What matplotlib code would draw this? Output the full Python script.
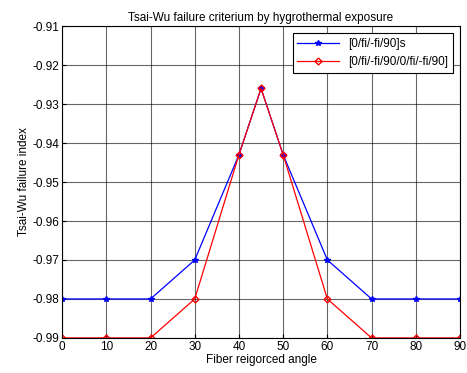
import matplotlib
matplotlib.use("Agg")
from matplotlib import pyplot as plt

angles = [0, 10, 20, 30, 40, 45, 50, 60, 70, 80, 90]
sym_index = [-0.98, -0.98, -0.98, -0.97, -0.943, -0.926, -0.943, -0.97, -0.98, -0.98, -0.98]
long_index = [-0.99, -0.99, -0.99, -0.98, -0.943, -0.926, -0.943, -0.98, -0.99, -0.99, -0.99]
x_ticks = [0, 10, 20, 30, 40, 50, 60, 70, 80, 90]
y_ticks = [-0.99, -0.98, -0.97, -0.96, -0.95, -0.94, -0.93, -0.92, -0.91]

plt.rcParams["font.family"] = ["Liberation Sans", "DejaVu Sans"]
plt.rcParams["font.size"] = 8.5

fig = plt.figure(figsize=(4.67, 3.73), dpi=100)
ax = fig.add_axes([0.133, 0.094, 0.852, 0.836])
ax.plot(angles, sym_index, color="blue", lw=0.9, marker="*", ms=4,
        label="[0/fi/-fi/90]s")
ax.plot(angles, long_index, color="red", lw=0.9, marker="D", ms=3.5,
        mfc="none", label="[0/fi/-fi/90/0/fi/-fi/90]")
ax.set_xlim(0, 90)
ax.set_ylim(-0.99, -0.91)
ax.set_xticks(x_ticks)
ax.set_yticks(y_ticks)
ax.set_yticklabels([f"{v:g}" for v in y_ticks])
ax.grid(True, color="black", lw=0.8, alpha=0.6)
ax.tick_params(direction="in", length=3, pad=2)
for s in ax.spines.values():
    s.set_linewidth(0.8)
ax.set_title("Tsai-Wu failure criterium by hygrothermal exposure", fontsize=8.5, pad=4)
ax.set_xlabel("Fiber reigorced angle", labelpad=1)
ax.set_ylabel("Tsai-Wu failure index", labelpad=2)
leg = ax.legend(loc="upper right", fancybox=False, edgecolor="black",
                framealpha=1, borderaxespad=0.6, handlelength=3.5)
leg.get_frame().set_linewidth(0.8)
plt.savefig("out.png", dpi=100)
